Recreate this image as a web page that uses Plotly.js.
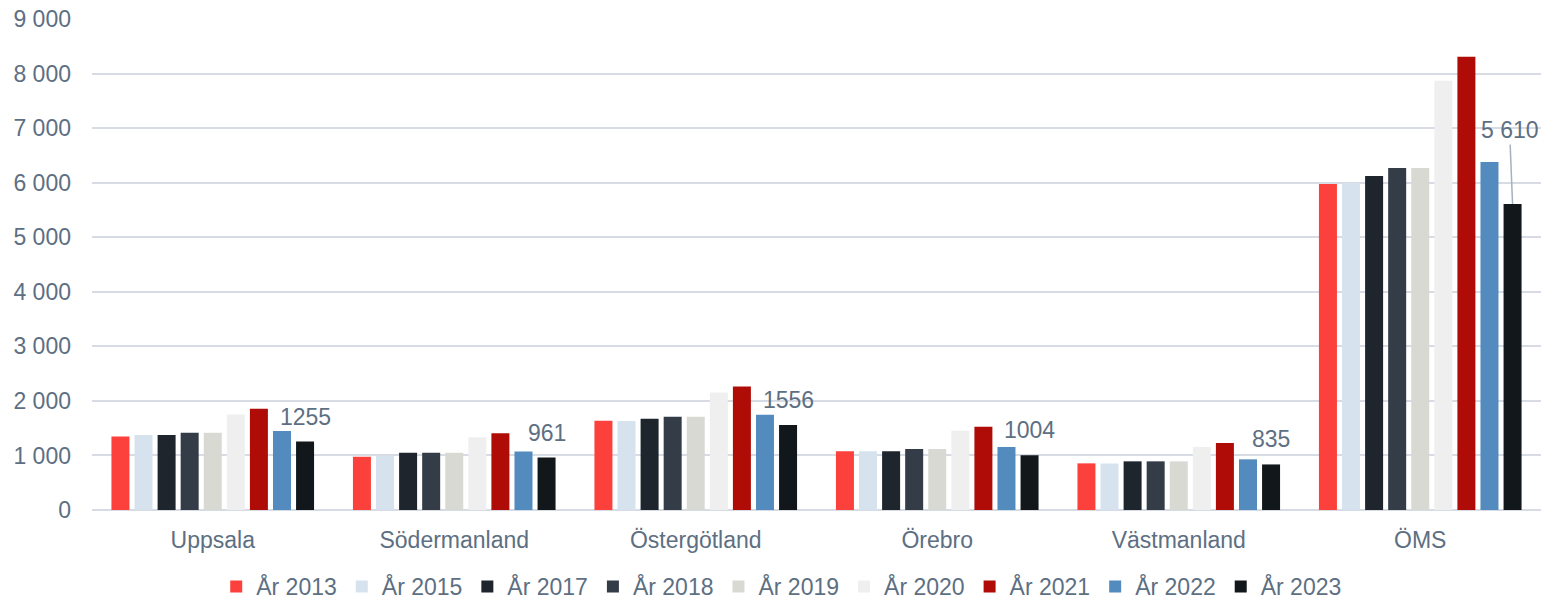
<!DOCTYPE html>
<html>
<head>
<meta charset="utf-8">
<script src="https://cdn.plot.ly/plotly-3.0.1.min.js"></script>
<style>html,body{margin:0;padding:0;background:#fff;}#chart{width:1541px;height:601px;}</style>
</head>
<body>
<div id="chart"></div>
<script>
const categories = ['Uppsala', 'Södermanland', 'Östergötland', 'Örebro', 'Västmanland', 'ÖMS'];
const seriesNames = ['År 2013', 'År 2015', 'År 2017', 'År 2018', 'År 2019', 'År 2020', 'År 2021', 'År 2022', 'År 2023'];
const y2013 = [1345, 975, 1635, 1078, 855, 5975];
const y2015 = [1375, 995, 1630, 1075, 852, 6000];
const y2017 = [1375, 1050, 1672, 1078, 892, 6123];
const y2018 = [1418, 1050, 1710, 1116, 892, 6270];
const y2019 = [1418, 1050, 1710, 1116, 892, 6270];
const y2020 = [1752, 1335, 2154, 1452, 1153, 7866];
const y2021 = [1857, 1407, 2265, 1527, 1228, 8307];
const y2022 = [1450, 1072, 1746, 1153, 929, 6380];
const y2023 = [1255, 961, 1556, 1004, 835, 5610];
const labels2023 = ['1255', '961', '1556', '1004', '835', '5 610'];

const seriesValues = [y2013, y2015, y2017, y2018, y2019, y2020, y2021, y2022, y2023];
const colors = ['#fc413c', '#d6e3ef', '#1f252d', '#343d47', '#d9d9d4', '#efefef', '#b00c07', '#538bbf', '#12171b'];

const textColor = '#5d6f82';
const fontFam = '"Liberation Sans", Arial, sans-serif';
const bargap = 0.14;
const bargroupgap = 0.22;

const traces = seriesValues.map((vals, i) => ({
  type: 'bar',
  name: seriesNames[i],
  x: categories,
  y: vals,
  marker: {color: colors[i]},
  hoverinfo: 'x+y+name'
}));

// position of the last series' bars within each group
const nS = seriesValues.length;
const slot = (1 - bargap) / nS;
const lastOffset = -(1 - bargap) / 2 + (nS - 0.5) * slot;

const annotations = categories.map((c, i) => {
  const last = i === categories.length - 1;
  const a = {
    xref: 'x', yref: 'y',
    x: i + lastOffset,
    y: y2023[i],
    text: labels2023[i],
    font: {family: fontFam, size: 23, color: textColor},
    showarrow: false,
    xanchor: 'center',
    yanchor: 'bottom',
    yshift: 10
  };
  if (last) {
    a.showarrow = true;
    a.arrowhead = 0;
    a.arrowwidth = 1.5;
    a.arrowcolor = '#a3b1c0';
    a.ax = -3;
    a.ay = -74;
    a.yshift = 0;
    a.standoff = 0;
    delete a.yanchor;
  }
  return a;
});

const layout = {
  width: 1541,
  height: 601,
  margin: {l: 92, r: 0, t: 19, b: 91, autoexpand: false},
  paper_bgcolor: '#ffffff',
  plot_bgcolor: '#ffffff',
  barmode: 'group',
  bargap: bargap,
  bargroupgap: bargroupgap,
  separators: ', ',
  font: {family: fontFam, size: 23, color: textColor},
  xaxis: {
    type: 'category',
    showgrid: false,
    showline: false,
    zeroline: false,
    ticks: '',
    automargin: false,
    ticklabelstandoff: 14,
    tickfont: {family: fontFam, size: 23, color: textColor}
  },
  yaxis: {
    range: [0, 9000],
    dtick: 1000,
    tick0: 0,
    tickformat: ',d',
    showgrid: true,
    gridcolor: '#d6dbe4',
    gridwidth: 2,
    zeroline: true,
    zerolinecolor: '#d6dbe4',
    zerolinewidth: 2,
    showline: false,
    ticks: '',
    automargin: false,
    ticklabelstandoff: 20,
    tickfont: {family: fontFam, size: 23, color: textColor}
  },
  legend: {
    orientation: 'h',
    x: 0.476,
    xanchor: 'center',
    yref: 'container',
    y: 0.06,
    yanchor: 'top',
    font: {family: fontFam, size: 23, color: textColor},
    traceorder: 'normal'
  },
  annotations: annotations,
  showlegend: true
};

Plotly.newPlot('chart', traces, layout, {displayModeBar: false, staticPlot: true});
</script>
</body>
</html>
